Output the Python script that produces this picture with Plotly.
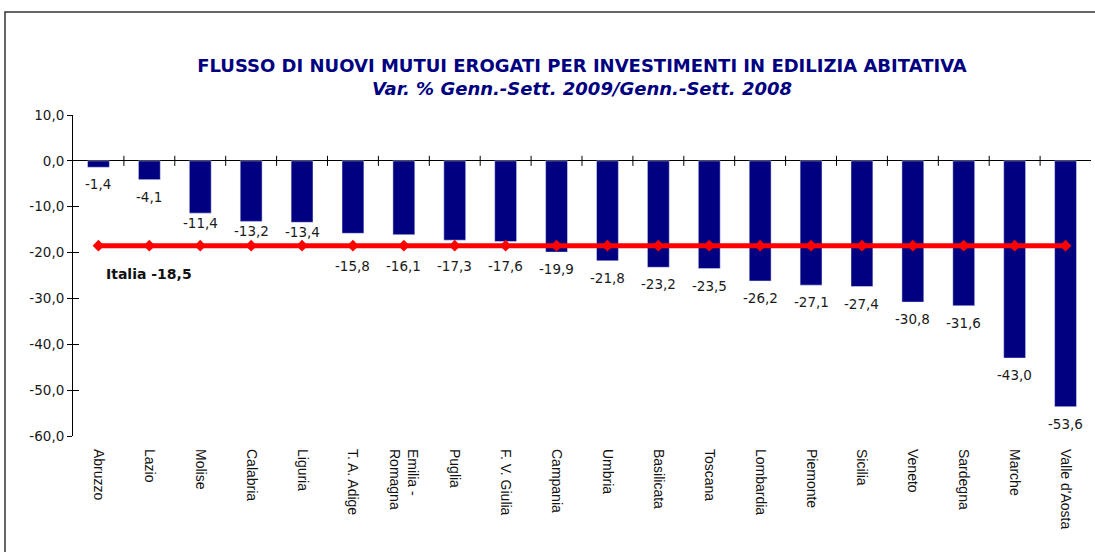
import plotly.graph_objects as go

regions = ["Abruzzo", "Lazio", "Molise", "Calabria", "Liguria", "T. A. Adige",
           "Emilia -<br>Romagna", "Puglia", "F. V. Giulia", "Campania", "Umbria",
           "Basilicata", "Toscana", "Lombardia", "Piemonte", "Sicilia", "Veneto",
           "Sardegna", "Marche", "Valle d'Aosta"]
variation = [-1.4, -4.1, -11.4, -13.2, -13.4, -15.8, -16.1, -17.3, -17.6, -19.9,
             -21.8, -23.2, -23.5, -26.2, -27.1, -27.4, -30.8, -31.6, -43.0, -53.6]
italia = -18.5
y_ticks = [10, 0, -10, -20, -30, -40, -50, -60]

title = "FLUSSO DI NUOVI MUTUI EROGATI PER INVESTIMENTI IN EDILIZIA ABITATIVA"
subtitle = "Var. % Genn.-Sett. 2009/Genn.-Sett. 2008"

def fmt(v):
    return f"{v:.1f}".replace(".", ",")

NAVY = "#000080"
FONT = "DejaVu Sans"

fig = go.Figure()
fig.add_trace(go.Bar(x=regions, y=variation, marker_color=NAVY, width=0.43,
                     showlegend=False, hoverinfo="skip"))
fig.add_trace(go.Scatter(x=regions, y=[italia] * len(regions), mode="lines+markers",
                         line=dict(color="#FF0000", width=5),
                         marker=dict(symbol="diamond", size=9, color="#FF0000"),
                         showlegend=False, hoverinfo="skip"))

# data labels below bars, kept clear of the Italia line
for r, v in zip(regions, variation):
    y, shift = v, -17
    if italia < v <= -14:
        y, shift = italia, -20
    elif -14 < v <= -11:
        shift = -10
    fig.add_annotation(x=r, y=y, yshift=shift, text=fmt(v), showarrow=False,
                       font=dict(family=FONT, size=13.5, color="#1a1a1a"))

fig.add_annotation(x=regions[1], y=italia, yshift=-28, text="<b>Italia " + fmt(italia) + "</b>",
                   showarrow=False, font=dict(family=FONT, size=14, color="#111111"))

# tick marks crossing the zero line at category boundaries
for i in range(len(regions) - 1):
    fig.add_shape(type="line", xref="x", yref="y", x0=i + 0.5, x1=i + 0.5, y0=-1.1, y1=1.1,
                  line=dict(color="black", width=1))

# outer frame
fig.add_shape(type="rect", xref="paper", yref="paper", x0=-0.0668, x1=1.2, y0=-0.6, y1=1.3209,
              line=dict(color="#333333", width=1.5), layer="below")

fig.update_layout(
    width=1095, height=552,
    margin=dict(l=73, r=4, t=115, b=116),
    plot_bgcolor="white", paper_bgcolor="white",
    separators=",.",
    bargap=0.57,
    title=dict(text="<b>" + title + "</b><br><b><i>" + subtitle + "</i></b>",
               xref="paper", x=0.5, xanchor="center", y=0.870, yanchor="middle",
               font=dict(family=FONT, size=18, color=NAVY)),
    xaxis=dict(showline=False, showgrid=False, zeroline=False, tickangle=90,
               ticks="", ticklabelstandoff=12,
               tickfont=dict(family="Liberation Sans", size=14, color="#111111"),
               range=[-0.5, len(regions) - 0.5]),
    yaxis=dict(range=[-60, 10], tickvals=y_ticks, ticktext=[fmt(t) for t in y_ticks],
               showgrid=False,
               showline=True, linecolor="black", linewidth=1, ticks="outside", ticklen=5,
               tickcolor="black", zeroline=True, zerolinecolor="black", zerolinewidth=1,
               tickfont=dict(family=FONT, size=13.5, color="#1a1a1a")),
    yaxis2=dict(range=[-60, 10], tickvals=y_ticks, overlaying="y", side="left",
                showticklabels=False, showgrid=False, showline=False, zeroline=False,
                ticks="inside", ticklen=6, tickcolor="black"),
)
fig.add_trace(go.Scatter(x=[regions[0]], y=[None], yaxis="y2", showlegend=False,
                         hoverinfo="skip"))

fig.write_html("out.html", config={"displayModeBar": False},
               post_script="document.body.style.margin='0';document.body.style.overflow='hidden';")
